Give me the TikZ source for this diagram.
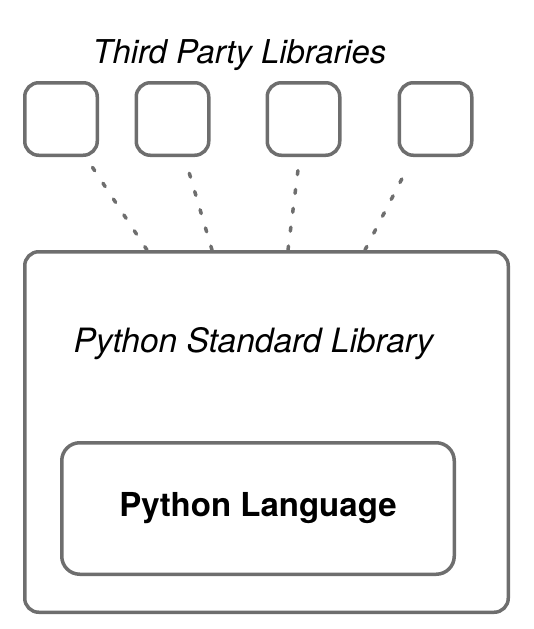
\documentclass[tikz,border=0pt]{standalone}
\usepackage{fontspec}
\setmainfont{TeX Gyre Heros}
\usetikzlibrary{calc}
\definecolor{boxgray}{HTML}{6E6E6E}

\begin{document}
\begin{tikzpicture}[x=1pt, y=-1pt,
		libbox/.style={draw=boxgray, line width=3.5pt, rounded corners=14pt, minimum width=72.5pt, minimum height=72.5pt, inner sep=0pt},
		dotline/.style={draw=boxgray, line width=3.5pt, line cap=round, dash pattern=on 4pt off 15pt}]
		%%%%% START %%%%%
		
		\useasboundingbox (0, 0) rectangle (533, 629);
		
		\node[anchor=base west, font=\itshape\fontsize{32.8}{39}\selectfont] (title) at (89, 63) {Third Party Libraries};
		
		\node[libbox] (lib1) at (61, 119) {};
		\node[libbox] (lib2) at (172.5, 119) {};
		\node[libbox] (lib3) at (303.5, 119) {};
		\node[libbox] (lib4) at (435.5, 119) {};
		
		\node[draw=boxgray, line width=3.5pt, rounded corners=14pt, minimum width=483.5pt, minimum height=360.5pt, inner sep=0pt] (std) at (266.5, 432) {};
		\node[anchor=base west, font=\itshape\fontsize{33.5}{40}\selectfont] (stdlabel) at (70, 352) {Python Standard Library};
		
		\node[draw=boxgray, line width=3.5pt, rounded corners=18pt, minimum width=392.5pt, minimum height=131.5pt, inner sep=0pt, font=\bfseries\fontsize{33}{40}\selectfont] (lang) at (258, 508.5) {Python Language};
		
		\draw[dotline] ($(std.north west)+(124, 0)$) -- ($(lib1.south)+(26, 2)$);
		\draw[dotline] ($(std.north west)+(189, 0)$) -- ($(lib2.south)+(13.5, 5)$);
		\draw[dotline] ($(std.north west)+(265, 0)$) -- ($(lib3.south)+(-4.5, 5)$);
		\draw[dotline] ($(std.north west)+(342, 0)$) -- ($(lib4.south)+(-28.5, 12)$);
		
		%%%%% END %%%%%
	\end{tikzpicture}
\end{document}
